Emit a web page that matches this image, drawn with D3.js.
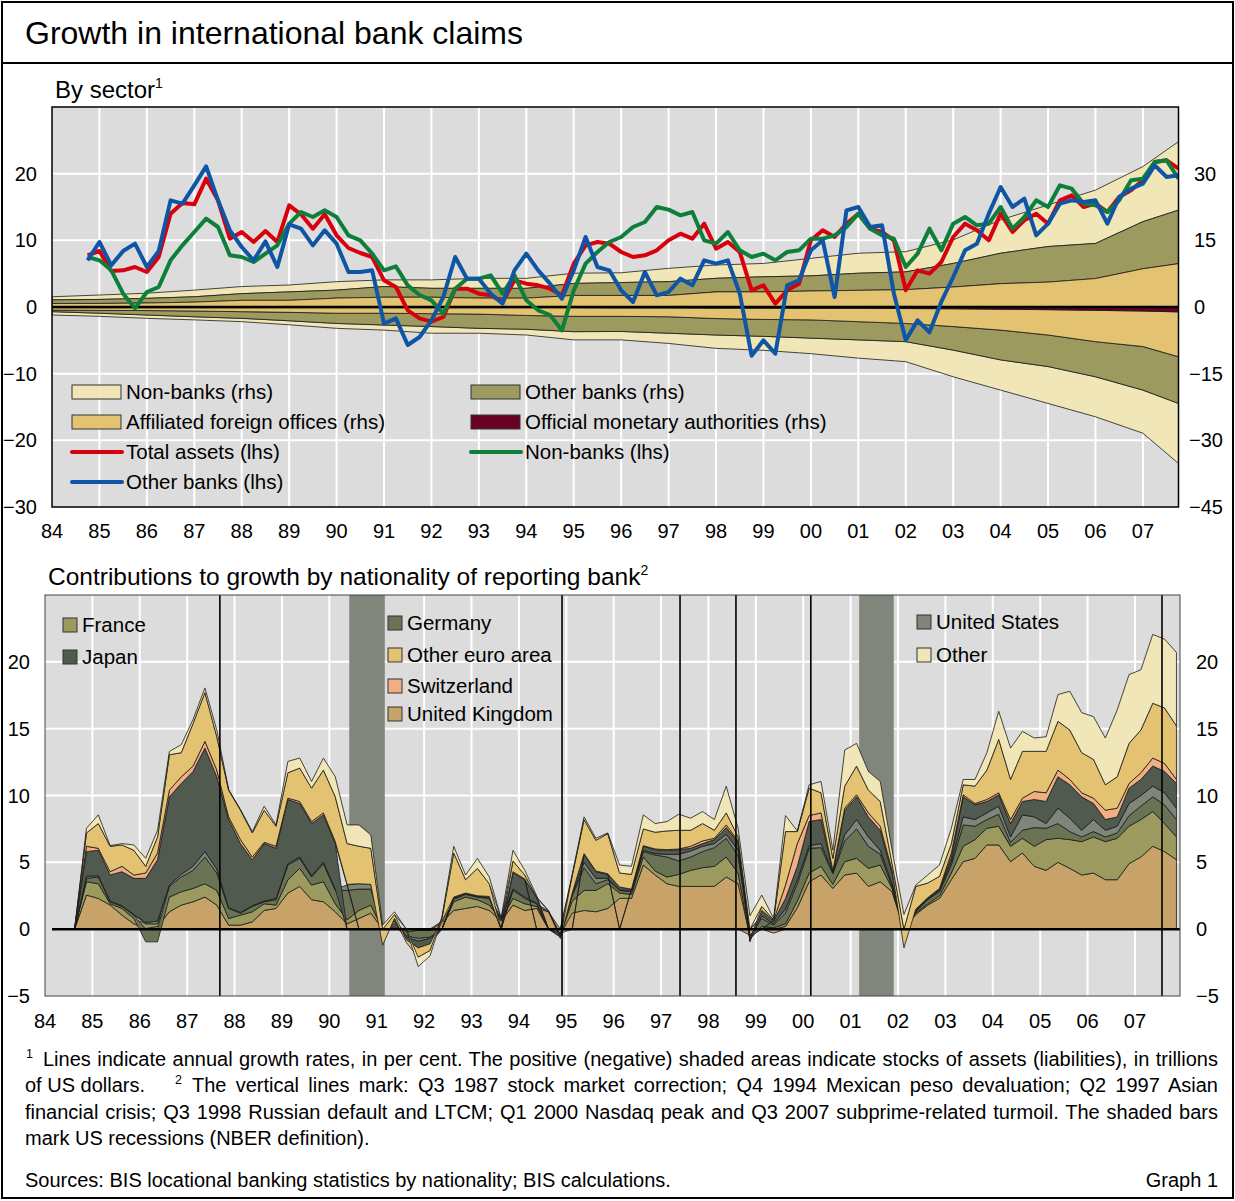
<!DOCTYPE html>
<html><head><meta charset="utf-8">
<script src="https://cdn.jsdelivr.net/npm/d3@7"></script>
<style>
body{margin:0;background:#fff}
svg{display:block}
text{font-family:"Liberation Sans",Arial,Helvetica,sans-serif;fill:#000}
</style>
</head><body>
<svg id="c" width="1235" height="1201"></svg>
<script>
// ---------------- DATA ----------------
// Top panel: quarterly annual growth rates (per cent, lhs), first point 1984.75
const lineStart = 1984.75;
const totalAssets = [7.75,8.4,5.4,5.5,6.0,5.25,7.5,14.0,15.6,15.4,
 19.25,16.0,10.25,11.25,9.75,11.4,9.75,15.25,13.9,11.75,
 13.9,10.75,8.85,8.1,7.5,4.0,3.0,-0.5,-1.7,-2.2,
 -1.5,2.75,2.75,2.0,1.75,0.75,4.0,3.5,3.25,2.75,
 1.75,6.5,9.25,9.75,9.5,8.25,7.5,7.75,8.5,10.0,
 11.0,10.25,12.5,8.75,9.75,8.25,2.5,3.25,0.5,2.5,
 3.5,10.0,11.5,10.5,12.5,14.0,11.75,11.25,10.0,2.5,
 5.5,5.0,6.75,10.5,12.5,11.5,10.0,14.0,11.25,13.0,
 14.0,12.5,16.0,16.75,15.0,15.5,14.25,16.5,17.5,19.0,
 21.75,22.0,20.75];
const otherBanksGrowth = [7.0,9.75,6.25,8.4,9.5,6.0,8.4,16.0,15.5,18.25,
 21.1,16.0,11.5,9.0,7.0,9.85,6.0,12.4,11.75,9.25,
 11.5,9.5,5.25,5.25,5.5,-2.5,-1.7,-5.7,-4.5,-2.0,
 1.5,7.5,4.25,4.25,2.0,0.5,5.5,8.0,5.5,3.5,
 1.25,5.5,10.5,6.0,5.5,2.5,0.75,5.25,1.75,2.25,
 4.25,3.25,7.0,6.5,7.0,2.0,-7.3,-5.0,-7.0,3.25,
 4.0,8.5,10.0,1.5,14.5,15.0,12.0,12.25,2.0,-5.0,
 -2.0,-3.8,0.8,4.5,8.5,9.5,14.0,18.0,15.0,16.25,
 10.75,12.5,15.5,16.0,15.75,16.0,12.5,16.5,17.75,18.5,
 21.25,19.5,19.75];
const nonBanksGrowth = [7.5,7.0,5.5,2.0,-0.2,2.25,3.0,7.0,9.25,11.25,
 13.25,12.0,7.75,7.5,6.75,8.0,9.25,12.5,14.25,13.5,
 14.5,13.5,10.75,10.0,8.0,5.5,6.1,3.25,1.8,1.0,
 -1.0,2.75,4.25,4.25,4.75,2.0,4.75,1.0,-0.5,-1.2,
 -3.5,2.5,6.5,8.25,9.75,10.5,12.0,12.75,15.0,14.6,
 13.75,14.25,10.0,9.5,11.25,8.5,7.5,8.0,7.0,8.25,
 8.5,10.25,10.25,10.75,12.0,14.0,11.75,10.75,10.25,6.0,
 8.0,11.75,8.5,12.5,13.5,12.25,12.5,15.0,11.75,13.5,
 16.0,15.0,18.25,17.75,15.5,15.25,14.25,16.0,19.0,19.25,
 21.75,22.0,19.25];

// Top panel: stocks (trillions of USD, rhs)
const stockDates = [1984,1985,1986,1987,1988,1989,1990,1991,1992,1993,1994,1995,1996,1997,1998,1999,2000,2001,2002,2003,2004,2005,2006,2007,2007.75];
const assetsOfficial   = [0.1,0.1,0.1,0.1,0.1,0.1,0.1,0.1,0.1,0.1,0.1,0.1,0.1,0.1,0.1,0.1,0.1,0.1,0.1,0.1,0.1,0.1,0.1,0.1,0.1];
const assetsAffiliated = [0.7,0.7,0.8,1.0,1.4,1.4,1.9,2.1,2.1,1.9,1.9,2.5,2.5,2.5,3.3,3.3,3.5,3.65,3.8,4.4,5.15,5.5,6.3,8.5,9.65];
const assetsOtherBanks = [0.8,0.9,1.05,1.2,1.5,1.9,1.8,2.4,2.0,2.2,2.2,2.7,2.9,3.1,3.05,3.4,3.4,3.85,4.0,5.3,6.85,8.0,7.9,10.6,12.05];
const assetsNonBanks   = [0.7,1.0,1.15,1.5,1.6,1.55,1.9,1.5,1.9,2.25,2.25,2.3,2.2,3.0,3.0,3.0,3.95,4.5,4.55,5.3,7.5,9.35,12.0,12.4,15.4];
const liabOfficial     = [0.15,0.15,0.15,0.15,0.15,0.15,0.15,0.15,0.15,0.15,0.15,0.15,0.2,0.2,0.25,0.25,0.3,0.3,0.35,0.4,0.5,0.6,0.75,0.9,1.1];
const liabAffiliated   = [0.55,0.6,0.65,0.75,0.9,1.05,1.25,1.25,1.35,1.45,1.75,1.95,1.9,2.0,2.35,2.55,2.6,3.0,3.35,4.0,4.7,5.7,7.05,8.0,10.1];
const liabOtherBanks   = [0.35,0.65,1.0,1.3,1.5,1.9,2.3,2.65,2.9,3.2,3.1,3.45,3.4,3.7,3.7,3.8,4.1,4.1,4.1,5.3,6.7,7.1,7.9,9.8,10.5];
const liabNonBanks     = [0.75,0.7,0.75,0.7,0.75,0.9,1.1,1.15,1.5,1.1,1.3,1.85,1.9,2.3,3.0,3.15,3.5,4.1,4.5,6.0,6.8,8.3,9.0,9.7,13.5];

// Bottom panel: contributions to growth by nationality (percentage points), quarterly from 1984.625
const nationStart = 1984.625;
const uk = [0,2.55,2.3,1.8,1.05,0.4,0.05,0.2,1.3,1.8, 2.05,2.4,1.8,0.3,0.3,0.55,1.4,1.55,2.7,3.2, 2.2,2.05,1.3,0.4,0.8,1.2,0,0.1,0,0, 0,0.5,1.4,1.55,1.7,1.4,0.6,1.8,1.4,1.55, 1.3,-0.3,1.2,1.4,1.3,1.55,2.3,2.3,4.8,4.05, 3.4,3.2,3.2,3.2,3.2,3.9,3.4,-0.45,0,-0.3, 0.2,1.6,3.55,4.05,3.05,4.05,4.2,3.2,3.55,2.8, 0,1.1,1.8,2.3,3.7,5.05,5.3,6.3,6.3,5.05, 5.7,4.7,4.4,5.0,4.55,4.05,4.2,3.7,3.7,4.9, 5.4,6.2,5.8,5.2];
const france = [0,1.0,1.1,0.1,0.5,0.4,0.35,0.2,1.1,1.0, 1.0,1.0,1.1,0.5,0.75,0.75,0.5,0.25,1.0,1.35, 1.1,1.5,0.6,0.3,0.6,0.6,0,0.1,-0.2,-0.1, -0.1,0.1,0.65,0.85,0.5,0.4,0.1,0.5,0.5,0.15, 0,-0.1,0.9,1.5,1.6,1.85,0.4,0.3,0.6,0.3, 0.5,0.9,1.2,1.4,1.5,1.5,0.8,-0.1,0.2,0.1, 0.2,0.5,0.65,0.65,0.3,1.0,1.1,1.35,1.25,0.25, 0,0.1,0.1,0.2,0.5,1.15,1.4,1.25,1.4,1.15, 1.1,1.5,2.3,1.8,2.15,2.5,2.7,2.85,3.1,2.8, 2.8,2.6,2.1,1.7];
const germany = [0,0.25,0.5,0.15,0.15,0.25,-0.95,-0.95,0.8,1.1, 1.35,2.0,1.3,0.75,0.15,0.4,0.15,0.4,1.1,0.75, 0.6,1.35,1.0,2.2,1.6,1.2,0,0.2,-0.3,-0.6, -0.5,0,0.2,0.2,0.2,0.5,0.05,0.6,0.4,0.2, 0.05,-0.1,0.4,1.7,0.5,0.3,0.2,0.2,0.4,1.2, 1.5,1.0,1.0,1.2,1.4,1.4,1.3,-0.2,0.6,0.2, 0.8,1.3,1.85,1.4,0.8,1.55,2.2,1.65,0.8,0.15, 0,0.1,0.3,0.3,0.6,1.6,1.0,0.65,0.9,0.3, 0.6,1.4,0.85,1.1,0.6,0.35,0.4,0.35,0.4,0.8, 1.0,1.1,1.4,1.3];
const unitedStates = [0,0.15,0.1,0.05,0.05,0.05,0.1,0.2,0.1,0.2, 0.3,0.4,0.3,0.05,0.05,0.05,0.05,0.1,0.1,0.1, 0.1,0.1,0.1,0.4,0.4,0.35,0,0.2,-0.1,-0.2, -0.1,0,0.05,0.05,0.05,0.05,0,0.1,0.1,0.05, 0,0,0.1,0.4,0.4,0.1,0.05,0.05,0.1,0.1, 0.2,0.5,0.45,0.4,0.3,0.3,0.4,0,0.2,0.1, 0.3,0.3,0.2,0.3,0.1,0.45,0.7,0.7,0.3,0.2, 0,0.05,0.05,0.1,0.25,0.6,0.5,0.5,0.6,0.4, 1.15,0.8,0.35,1.15,1.0,0.5,0.9,0.5,0.5,0.9, 0.8,0.8,0.9,0.85];
const japan = [0,1.85,1.9,1.95,2.55,2.7,3.3,4.6,6.6,6.8, 7.1,7.75,6.9,6.6,5.15,3.45,4.3,3.75,4.8,4.0, 3.9,3.55,3.4,0,0,0,0,0.2,-0.2,-0.5, -0.4,0,0.1,0.05,0.05,0.1,0.05,1.2,1.3,0.4, 0,-0.1,0.1,0.6,0.5,0.3,0.2,0.1,0.3,0.3, 0.3,0.35,0.2,0.2,0.3,0.5,0.6,-0.1,0.4,0.2, 0.8,1.0,1.8,1.8,0.1,1.85,1.7,1.5,1.5,0.8, 0,0.1,0.05,0.1,0.35,1.5,1.1,0.85,0.85,1.0, 1.0,1.3,1.65,2.35,2.5,2.5,1.2,0.8,0.7,1.15, 1.2,1.5,1.6,1.85];
const switzerland = [0,0.4,0.15,0.25,0.4,0.25,0.4,0.5,0.5,0.5, 0.4,0.5,0.5,0.2,0.3,0.2,0.1,0.15,0.1,0.15, 0.15,0.15,0.15,0.05,0,0,0,0,0,0, 0,0,0,0,0,0,0,0.1,0.05,0, 0,0,0,0.05,0.05,0.05,0,0.05,0.05,0.05, 0.05,0.05,0.15,0.2,0.1,0.2,0.1,0,0,0.05, 1.0,1.7,0.45,0.5,0.05,0.15,0.15,0.3,0.3,0.2, 0,0.05,0.05,0.05,0.3,0.15,0.1,0.15,0.15,0.3, 0.25,0.6,0.65,0.5,0.4,0.3,0.4,0.7,0.65,0.35, 0.5,0.6,0.6,0.3];
const otherEuroArea = [0,1.0,1.85,1.9,1.6,1.85,0.5,1.2,2.65,1.8, 3.2,3.65,2.5,2.0,2.2,1.8,2.4,1.5,1.9,2.5, 2.5,3.2,3.35,3.05,2.8,2.7,-1.2,0.3,-0.2,-0.7, -0.5,0.2,3.3,1.0,2.05,0.95,0,0.8,0.3,0.05, 0.05,-0.1,1.3,2.55,2.3,3.0,1.05,1.1,1.25,1.25, 1.4,1.4,1.2,1.3,0.6,0.9,0.3,-0.1,0.3,0.05, 4.0,0.9,2.05,1.5,0.9,1.65,2.15,1.7,1.85,0.5, -1.4,1.7,1.1,0.9,0.7,0.75,1.3,2.2,4.0,3.0, 3.5,3.0,3.1,3.65,3.7,3.0,2.9,1.9,2.35,3.0, 3.2,4.1,4.15,4.0];
const otherNat = [0,0.35,0.65,0.05,0.1,0.4,0.6,0.5,0.25,0.6, 0.3,0.35,0.5,0.05,0.05,0.1,0.3,0.1,0.85,0.75, 0.5,0.9,1.5,1.4,1.6,1.0,0.3,0.2,0,-0.7, -0.4,0.1,0.5,0.35,0.75,0.5,0.05,0.8,0.35,0.1, 0,0,0.1,0.2,0.15,0.05,0.6,0.6,1.05,0.65, 0.7,1.2,0.9,0.9,0.8,2.0,0.65,1.0,0.85,0.1, 1.2,0.05,0.25,0.85,0.6,2.7,1.7,1.4,1.5,1.0, 1.1,0.1,0.6,0.85,1.15,0.4,0.5,1.3,2.1,2.35, 1.5,1.0,1.1,2.0,2.9,3.0,3.2,3.5,5.0,5.15, 4.5,5.15,5.15,5.5];

const eventLines = [1987.69, 1994.91, 1997.40, 1998.58, 2000.16, 2007.57];
const recessions = [[1990.42, 1991.17], [2001.18, 2001.91]];
const yearTicks = d3.range(1984, 2008);
const yearLabels = ["84","85","86","87","88","89","90","91","92","93","94","95","96","97","98","99","00","01","02","03","04","05","06","07"];
const topLhsTicks = [-30,-20,-10,0,10,20];
const topRhsTicks = [-45,-30,-15,0,15,30];
const botTicks = [-5,0,5,10,15,20];

// ---------------- STYLE ----------------
const C = {
  bg:"#dcdcdc", cream:"#f0e6b7", olive:"#9c9a5f", sand:"#e3c371", maroon:"#690026",
  red:"#d9000d", green:"#0d7f3a", blue:"#0f55a6",
  uk:"#c8a369", france:"#9c9a5f", germany:"#6a7454", us:"#7f8579", japan:"#505a4f",
  swiss:"#f1ad83", oeuro:"#e3c371", other:"#f0e6b7", recess:"#80867b"
};
const fmt = d => d < 0 ? "\u2212" + Math.abs(d) : String(d);

const svg = d3.select("#c");

// frame + title
svg.append("rect").attr("x",2).attr("y",2).attr("width",1231).attr("height",1196)
  .attr("fill","none").attr("stroke","#000").attr("stroke-width",2);
svg.append("line").attr("x1",2).attr("x2",1233).attr("y1",63).attr("y2",63)
  .attr("stroke","#000").attr("stroke-width",2);
svg.append("text").attr("x",25).attr("y",44).attr("font-size",32).text("Growth in international bank claims");

// ================= TOP PANEL =================
const L1 = 52, R1 = 1178.5, T1 = 107, B1 = 507;
const x1 = d3.scaleLinear().domain([1984, 2007.75]).range([L1, R1]);
const yL = d3.scaleLinear().domain([-30, 30]).range([B1, T1]);
const yR = d3.scaleLinear().domain([-45, 45]).range([B1, T1]);

const st = svg.append("text").attr("x",55).attr("y",98).attr("font-size",24).text("By sector");
st.append("tspan").attr("dy",-10).attr("font-size",14).text("1");

svg.append("defs").append("clipPath").attr("id","clipTop")
  .append("rect").attr("x",L1).attr("y",T1).attr("width",R1-L1).attr("height",B1-T1);

const gT = svg.append("g");
gT.append("rect").attr("x",L1).attr("y",T1).attr("width",R1-L1).attr("height",B1-T1).attr("fill",C.bg);
gT.selectAll(".vg").data(yearTicks.slice(1)).join("line")
  .attr("x1",d=>x1(d)).attr("x2",d=>x1(d)).attr("y1",T1).attr("y2",B1)
  .attr("stroke","#fff").attr("stroke-width",2);
gT.selectAll(".hg").data([-20,-10,10,20]).join("line")
  .attr("x1",L1).attr("x2",R1).attr("y1",d=>yL(d)).attr("y2",d=>yL(d))
  .attr("stroke","#fff").attr("stroke-width",2);

// stocks
const posRows = stockDates.map((t,i)=>({t, official:assetsOfficial[i], affiliated:assetsAffiliated[i], otherBanks:assetsOtherBanks[i], nonBanks:assetsNonBanks[i]}));
const negRows = stockDates.map((t,i)=>({t, official:-liabOfficial[i], affiliated:-liabAffiliated[i], otherBanks:-liabOtherBanks[i], nonBanks:-liabNonBanks[i]}));
const sKeys = ["official","affiliated","otherBanks","nonBanks"];
const sCol = {official:C.maroon, affiliated:C.sand, otherBanks:C.olive, nonBanks:C.cream};
const stackTop = d3.stack().keys(sKeys);
const areaTop = d3.area().x(d=>x1(d.data.t)).y0(d=>yR(d[0])).y1(d=>yR(d[1]));
const gA = gT.append("g").attr("clip-path","url(#clipTop)");
[stackTop(posRows), stackTop(negRows)].forEach(series=>{
  gA.selectAll(null).data(series.slice().reverse()).join("path")
    .attr("d",areaTop).attr("fill",d=>sCol[d.key]).attr("stroke","#1a1a1a").attr("stroke-width",0.8);
});
gT.append("line").attr("x1",L1).attr("x2",R1).attr("y1",yL(0)).attr("y2",yL(0))
  .attr("stroke","#000").attr("stroke-width",2.5);

// growth lines
const lineGen = d3.line().x((d,i)=>x1(lineStart + 0.25*i)).y(d=>yL(d));
const gL = gT.append("g").attr("clip-path","url(#clipTop)");
[[totalAssets,C.red],[nonBanksGrowth,C.green],[otherBanksGrowth,C.blue]].forEach(([arr,col])=>{
  gL.append("path").datum(arr).attr("d",lineGen).attr("fill","none")
    .attr("stroke",col).attr("stroke-width",4).attr("stroke-linejoin","round");
});

// border
gT.append("rect").attr("x",L1).attr("y",T1).attr("width",R1-L1).attr("height",B1-T1)
  .attr("fill","none").attr("stroke","#000").attr("stroke-width",1.5);

// axes labels
svg.selectAll(".tl").data(topLhsTicks).join("text").attr("x",37).attr("y",d=>yL(d)).attr("dy","0.35em")
  .attr("text-anchor","end").attr("font-size",20).text(fmt);
svg.selectAll(".tr").data(topRhsTicks).join("text").attr("x",d=>d<0?1189:1194).attr("y",d=>yR(d)).attr("dy","0.35em")
  .attr("text-anchor","start").attr("font-size",20).text(fmt);
svg.selectAll(".tx").data(yearTicks).join("text").attr("x",d=>x1(d)).attr("y",538)
  .attr("text-anchor","middle").attr("font-size",20).text((d,i)=>yearLabels[i]);

// legend top
const legTop = [
  {x:72,y:392,type:"rect",color:C.cream,label:"Non-banks (rhs)"},
  {x:72,y:422,type:"rect",color:C.sand,label:"Affiliated foreign offices (rhs)"},
  {x:72,y:452,type:"line",color:C.red,label:"Total assets (lhs)"},
  {x:72,y:482,type:"line",color:C.blue,label:"Other banks (lhs)"},
  {x:471,y:392,type:"rect",color:C.olive,label:"Other banks (rhs)"},
  {x:471,y:422,type:"rect",color:C.maroon,label:"Official monetary authorities (rhs)"},
  {x:471,y:452,type:"line",color:C.green,label:"Non-banks (lhs)"}
];
legTop.forEach(it=>{
  if(it.type==="rect"){
    svg.append("rect").attr("x",it.x).attr("y",it.y-7).attr("width",49).attr("height",14)
      .attr("fill",it.color).attr("stroke","#333").attr("stroke-width",1);
  } else {
    svg.append("line").attr("x1",it.x).attr("x2",it.x+50).attr("y1",it.y).attr("y2",it.y)
      .attr("stroke",it.color).attr("stroke-width",4).attr("stroke-linecap","round");
  }
  svg.append("text").attr("x",it.x+54).attr("y",it.y).attr("dy","0.36em").attr("font-size",20.5).text(it.label);
});

// ================= BOTTOM PANEL =================
const L2 = 45, R2 = 1180, T2 = 595, B2 = 996;
const x2 = d3.scaleLinear().domain([1984, 2007.95]).range([L2, R2]);
const y2 = d3.scaleLinear().domain([-5, 25]).range([B2, T2]);

const st2 = svg.append("text").attr("x",48).attr("y",585).attr("font-size",24.5).text("Contributions to growth by nationality of reporting bank");
st2.append("tspan").attr("dy",-10).attr("font-size",14).text("2");

svg.select("defs").append("clipPath").attr("id","clipBot")
  .append("rect").attr("x",L2).attr("y",T2).attr("width",R2-L2).attr("height",B2-T2);

const gB = svg.append("g");
gB.append("rect").attr("x",L2).attr("y",T2).attr("width",R2-L2).attr("height",B2-T2).attr("fill",C.bg);
gB.selectAll(".vg").data(yearTicks.slice(1)).join("line")
  .attr("x1",d=>x2(d)).attr("x2",d=>x2(d)).attr("y1",T2).attr("y2",B2)
  .attr("stroke","#fff").attr("stroke-width",2);
gB.selectAll(".hg").data([5,10,15,20]).join("line")
  .attr("x1",L2).attr("x2",R2).attr("y1",d=>y2(d)).attr("y2",d=>y2(d))
  .attr("stroke","#fff").attr("stroke-width",2);
gB.selectAll(".rc").data(recessions).join("rect")
  .attr("x",d=>x2(d[0])).attr("width",d=>x2(d[1])-x2(d[0])).attr("y",T2).attr("height",B2-T2)
  .attr("fill",C.recess);

const nKeys = ["uk","france","germany","us","japan","swiss","oeuro","other"];
const nSrc = {uk, france, germany, us:unitedStates, japan, swiss:switzerland, oeuro:otherEuroArea, other:otherNat};
const nRows = uk.map((_,i)=>{
  const r = {t: nationStart + 0.25*i};
  nKeys.forEach(k=>r[k]=nSrc[k][i]);
  return r;
});
const nStack = d3.stack().keys(nKeys).offset(d3.stackOffsetDiverging)(nRows);
const areaBot = d3.area().x(d=>x2(d.data.t)).y0(d=>y2(d[0])).y1(d=>y2(d[1]));
gB.append("g").attr("clip-path","url(#clipBot)").selectAll("path").data(nStack).join("path")
  .attr("d",areaBot).attr("fill",d=>C[d.key]).attr("stroke","#1a1a1a").attr("stroke-width",0.8);

gB.append("line").attr("x1",52).attr("x2",R2).attr("y1",y2(0)).attr("y2",y2(0))
  .attr("stroke","#000").attr("stroke-width",2.5);
gB.selectAll(".ev").data(eventLines).join("line")
  .attr("x1",d=>x2(d)).attr("x2",d=>x2(d)).attr("y1",T2).attr("y2",B2)
  .attr("stroke","#000").attr("stroke-width",1.6);
gB.append("rect").attr("x",L2).attr("y",T2).attr("width",R2-L2).attr("height",B2-T2)
  .attr("fill","none").attr("stroke","#444").attr("stroke-width",1);

svg.selectAll(".bl").data(botTicks).join("text").attr("x",30).attr("y",d=>y2(d)).attr("dy","0.35em")
  .attr("text-anchor","end").attr("font-size",20).text(fmt);
svg.selectAll(".br").data(botTicks).join("text").attr("x",1196).attr("y",d=>y2(d)).attr("dy","0.35em")
  .attr("text-anchor","start").attr("font-size",20).text(fmt);
svg.selectAll(".bx").data(yearTicks).join("text").attr("x",d=>x2(d)).attr("y",1028)
  .attr("text-anchor","middle").attr("font-size",20).text((d,i)=>yearLabels[i]);

// legend bottom
const legBot = [
  {x:63,y:625,key:"france",label:"France"},
  {x:63,y:657,key:"japan",label:"Japan"},
  {x:388,y:623,key:"germany",label:"Germany"},
  {x:388,y:655,key:"oeuro",label:"Other euro area"},
  {x:388,y:686,key:"swiss",label:"Switzerland"},
  {x:388,y:714,key:"uk",label:"United Kingdom"},
  {x:917,y:622,key:"us",label:"United States"},
  {x:917,y:655,key:"other",label:"Other"}
];
legBot.forEach(it=>{
  svg.append("rect").attr("x",it.x).attr("y",it.y-7).attr("width",14).attr("height",14)
    .attr("fill",C[it.key]).attr("stroke","#333").attr("stroke-width",1);
  svg.append("text").attr("x",it.x+19).attr("y",it.y).attr("dy","0.36em").attr("font-size",20.5).text(it.label);
});

// ================= FOOTNOTES =================
const fs = 20;
function justify(sel, target){
  const n = sel.node();
  const len = n.getComputedTextLength();
  const spaces = (n.textContent.match(/ /g) || []).length;
  if (len <= target && spaces > 0) sel.attr("word-spacing", (target - len) / spaces);
  else sel.attr("textLength", target).attr("lengthAdjust", "spacingAndGlyphs");
}
svg.append("text").attr("x",26).attr("y",1058).attr("font-size",12.5).text("1");
justify(svg.append("text").attr("x",43).attr("y",1066).attr("font-size",fs)
  .text("Lines indicate annual growth rates, in per cent. The positive (negative) shaded areas indicate stocks of assets (liabilities), in trillions"), 1175);
svg.append("text").attr("x",25).attr("y",1092).attr("font-size",fs).text("of US dollars.");
svg.append("text").attr("x",175).attr("y",1084).attr("font-size",12.5).text("2");
justify(svg.append("text").attr("x",192).attr("y",1092).attr("font-size",fs)
  .text("The vertical lines mark: Q3 1987 stock market correction; Q4 1994 Mexican peso devaluation; Q2 1997 Asian"), 1026);
justify(svg.append("text").attr("x",25).attr("y",1119).attr("font-size",fs)
  .text("financial crisis; Q3 1998 Russian default and LTCM; Q1 2000 Nasdaq peak and Q3 2007 subprime-related turmoil. The shaded bars"), 1193);
svg.append("text").attr("x",25).attr("y",1145).attr("font-size",fs).text("mark US recessions (NBER definition).");
svg.append("text").attr("x",25).attr("y",1187).attr("font-size",fs).text("Sources: BIS locational banking statistics by nationality; BIS calculations.");
svg.append("text").attr("x",1218).attr("y",1187).attr("font-size",fs).attr("text-anchor","end").text("Graph 1");
</script>
</body></html>
